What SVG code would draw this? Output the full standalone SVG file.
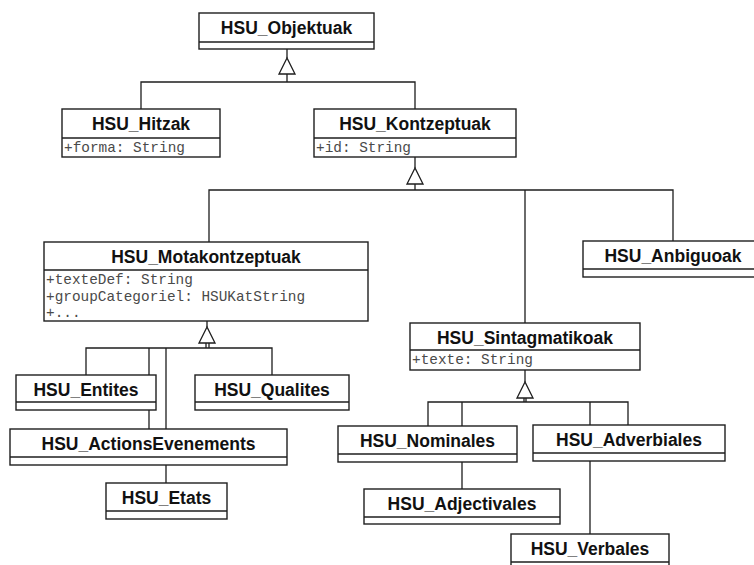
<svg xmlns="http://www.w3.org/2000/svg" width="754" height="565" viewBox="0 0 754 565">
  <style>
    .box { fill: #fff; stroke: #1e1e1e; stroke-width: 1.4; }
    .div { stroke: #1e1e1e; stroke-width: 1.4; }
    .t { font-family: "Liberation Sans", Arial, Helvetica, sans-serif; font-weight: bold; font-size: 17.5px; text-anchor: middle; fill: #111; }
    .a { font-family: "Liberation Mono", "Courier New", monospace; font-size: 14.4px; fill: #4a4a4a; }
    .c { fill: none; stroke: #1e1e1e; stroke-width: 1.3; }
    .tri { fill: #fff; stroke: #1e1e1e; stroke-width: 1.3; }
  </style>
  <defs>
    <!-- hollow generalization arrowhead, apex at origin -->
    <path id="gen" class="tri" d="M0 0 L-8 16 L8 16 Z"/>
  </defs>
  <rect width="754" height="565" fill="#fff"/>

  <g id="connectors">
    <!-- HSU_Objektuak hierarchy -->
    <path class="c" d="M287 49 V58 M287 74 V82 M141 109 V82 H415 V109"/>
    <use href="#gen" x="287" y="58"/>
    <!-- HSU_Kontzeptuak hierarchy -->
    <path class="c" d="M415 157 V168 M415 184 V190 M209 242 V190 H673 V241 M525 190 V323"/>
    <use href="#gen" x="415" y="168"/>
    <!-- HSU_Motakontzeptuak hierarchy -->
    <path class="c" d="M207 321 V327 M206 343 V348 M209 343 V348 M86 375 V348 H272 V375 M149 348 V429 M166 348 V483"/>
    <use href="#gen" x="207" y="327"/>
    <!-- HSU_Sintagmatikoak hierarchy -->
    <path class="c" d="M525 370 V382 M524 397 V402 M526 397 V402 M428 426 V402 H628 V425 M462 402 V489 M590 402 V534"/>
    <use href="#gen" x="525" y="382"/>
  </g>

  <g id="HSU_Objektuak">
    <rect class="box" x="199" y="13" width="175" height="36"/>
    <line class="div" x1="199" y1="42" x2="374" y2="42"/>
    <text class="t" x="286.5" y="34">HSU_Objektuak</text>
  </g>

  <g id="HSU_Hitzak">
    <rect class="box" x="62" y="109" width="158" height="48"/>
    <line class="div" x1="62" y1="138" x2="220" y2="138"/>
    <text class="t" x="141" y="130">HSU_Hitzak</text>
    <text class="a" x="64" y="152">+forma: String</text>
  </g>

  <g id="HSU_Kontzeptuak">
    <rect class="box" x="314" y="109" width="202" height="48"/>
    <line class="div" x1="314" y1="138" x2="516" y2="138"/>
    <text class="t" x="415" y="130">HSU_Kontzeptuak</text>
    <text class="a" x="316" y="152">+id: String</text>
  </g>

  <g id="HSU_Motakontzeptuak">
    <rect class="box" x="44" y="242" width="324" height="79"/>
    <line class="div" x1="44" y1="270" x2="368" y2="270"/>
    <text class="t" x="206" y="263">HSU_Motakontzeptuak</text>
    <text class="a" x="46" y="284">+texteDef: String</text>
    <text class="a" x="46" y="300.5">+groupCategoriel: HSUKatString</text>
    <text class="a" x="46" y="317">+...</text>
  </g>

  <g id="HSU_Anbiguoak">
    <rect class="box" x="583" y="241" width="180" height="36"/>
    <line class="div" x1="583" y1="269" x2="763" y2="269"/>
    <text class="t" x="673" y="262">HSU_Anbiguoak</text>
  </g>

  <g id="HSU_Sintagmatikoak">
    <rect class="box" x="410" y="323" width="230" height="47"/>
    <line class="div" x1="410" y1="350" x2="640" y2="350"/>
    <text class="t" x="525" y="344">HSU_Sintagmatikoak</text>
    <text class="a" x="412" y="364">+texte: String</text>
  </g>

  <g id="HSU_Entites">
    <rect class="box" x="16" y="375" width="140" height="35"/>
    <line class="div" x1="16" y1="402" x2="156" y2="402"/>
    <text class="t" x="86" y="396">HSU_Entites</text>
  </g>

  <g id="HSU_Qualites">
    <rect class="box" x="195" y="375" width="154" height="35"/>
    <line class="div" x1="195" y1="402" x2="349" y2="402"/>
    <text class="t" x="272" y="396">HSU_Qualites</text>
  </g>

  <g id="HSU_ActionsEvenements">
    <rect class="box" x="10" y="429" width="277" height="36"/>
    <line class="div" x1="10" y1="457" x2="287" y2="457"/>
    <text class="t" x="148.5" y="449.5">HSU_ActionsEvenements</text>
  </g>

  <g id="HSU_Etats">
    <rect class="box" x="106" y="483" width="121" height="36"/>
    <line class="div" x1="106" y1="511" x2="227" y2="511"/>
    <text class="t" x="166.5" y="504">HSU_Etats</text>
  </g>

  <g id="HSU_Nominales">
    <rect class="box" x="338" y="426" width="179" height="36"/>
    <line class="div" x1="338" y1="454" x2="517" y2="454"/>
    <text class="t" x="427.5" y="446.5">HSU_Nominales</text>
  </g>

  <g id="HSU_Adverbiales">
    <rect class="box" x="533" y="425" width="192" height="36"/>
    <line class="div" x1="533" y1="453" x2="725" y2="453"/>
    <text class="t" x="629" y="445.5">HSU_Adverbiales</text>
  </g>

  <g id="HSU_Adjectivales">
    <rect class="box" x="364" y="489" width="196" height="35"/>
    <line class="div" x1="364" y1="517" x2="560" y2="517"/>
    <text class="t" x="462" y="510">HSU_Adjectivales</text>
  </g>

  <g id="HSU_Verbales">
    <rect class="box" x="511" y="534" width="158" height="36"/>
    <line class="div" x1="511" y1="562" x2="669" y2="562"/>
    <text class="t" x="590" y="555">HSU_Verbales</text>
  </g>
</svg>
